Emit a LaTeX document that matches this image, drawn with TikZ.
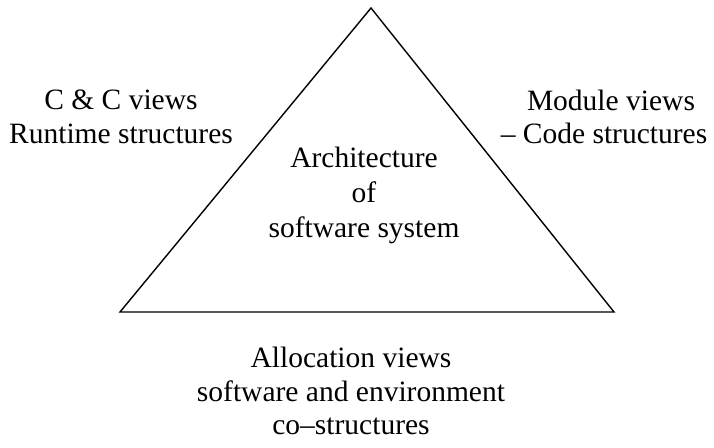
\documentclass[tikz,border=0pt]{standalone}
\usepackage{fontspec}
\setmainfont{Liberation Serif}
\begin{document}
\begin{tikzpicture}[x=1pt,y=-1pt,
  lbl/.style={inner sep=0pt,align=center,font=\fontsize{29.5}{33.5}\selectfont},
  edge/.style={line width=1.4pt,line join=miter}]
\useasboundingbox (0,0) rectangle (714,447);
\coordinate (apex) at (371,8);
\coordinate (bl) at (120,312);
\coordinate (br) at (614,312);
\draw[edge] (apex) -- (br) -- (bl) -- cycle;
\node[lbl] (cc) at (121,117) {C \& C views\\Runtime structures};
\node[lbl] (mod) at (604,117) {\hspace*{14pt}Module views\\-- Code structures};
\node[lbl,font=\fontsize{29.5}{35}\selectfont] (arch) at (364,195) {Architecture\\of\\software system};
\node[lbl] (alloc) at (351,391) {Allocation views\\software and environment\\co--structures};
\end{tikzpicture}
\end{document}
